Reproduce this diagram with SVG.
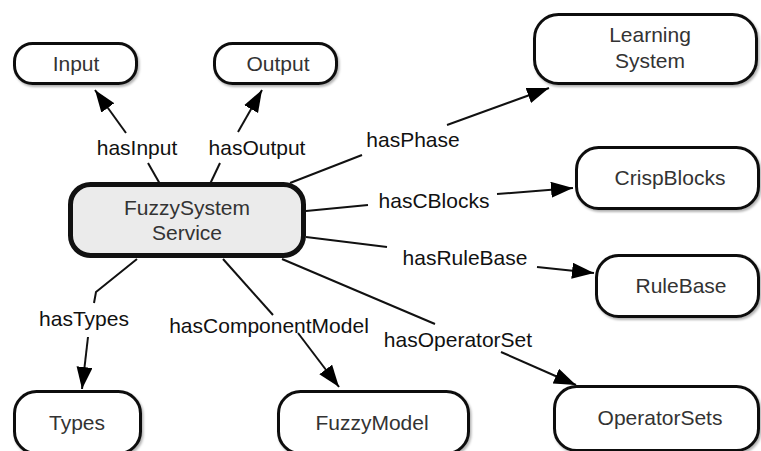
<svg xmlns="http://www.w3.org/2000/svg" width="761" height="451" viewBox="0 0 761 451">
<defs>
<marker id="ah" markerUnits="userSpaceOnUse" markerWidth="24" markerHeight="18" refX="22" refY="8" orient="auto">
<path d="M0,0 L22,8 L0,16 z" fill="#000"/>
</marker>
<filter id="sh" x="-10%" y="-10%" width="130%" height="140%">
<feDropShadow dx="1.5" dy="2" stdDeviation="1" flood-color="#000" flood-opacity="0.3"/>
</filter>
</defs>
<style>
.node rect{fill:#fff;stroke:#111;stroke-width:3;filter:url(#sh)}
.main rect{fill:#ebebeb;stroke:#111;stroke-width:5}
.nt{font-family:"Liberation Sans",Arial,sans-serif;font-size:21px;fill:#333;text-anchor:middle}
.lt{font-family:"Liberation Sans",Arial,sans-serif;font-size:21px;fill:#111;text-anchor:middle}
.c path{fill:none;stroke:#111;stroke-width:2}
.c path.a{marker-end:url(#ah)}
</style>
<rect width="761" height="451" fill="#fff"/>
<g class="c" id="connectors">
<path d="M160,184 L148,163"/><path class="a" d="M126,133 L95,90"/>
<path d="M210,184 L220,163"/><path class="a" d="M238,132 L262,90"/>
<path d="M290,183 L362,155"/><path class="a" d="M447,125 L549,88"/>
<path d="M306,211 L368,205"/><path class="a" d="M497,194 L573,188"/>
<path d="M306,237 L387,247"/><path class="a" d="M537,267 L594,273"/>
<path d="M282,259 L435,324"/><path class="a" d="M501,352 L576,385"/>
<path d="M223,259 L273,315"/><path class="a" d="M298,333 L339,387"/>
<path d="M137,259 L96,292 L94,303"/><path class="a" d="M88,337 L82,389"/>
</g>
<g id="labels">
<text class="lt" x="137" y="155">hasInput</text>
<text class="lt" x="257" y="155">hasOutput</text>
<text class="lt" x="413" y="147">hasPhase</text>
<text class="lt" x="434" y="208">hasCBlocks</text>
<text class="lt" x="465" y="265">hasRuleBase</text>
<text class="lt" x="458" y="347">hasOperatorSet</text>
<text class="lt" x="269" y="333">hasComponentModel</text>
<text class="lt" x="84" y="326">hasTypes</text>
</g>
<g id="n-input" class="node"><rect x="14.5" y="43.5" width="122" height="40" rx="18"/><text class="nt" x="76" y="71">Input</text></g>
<g id="n-output" class="node"><rect x="214.5" y="43.5" width="122" height="40" rx="18"/><text class="nt" x="278" y="71">Output</text></g>
<g id="n-learning" class="node"><rect x="534.5" y="14.5" width="222" height="69" rx="24"/><text class="nt" x="650" y="42">Learning</text><text class="nt" x="650" y="68">System</text></g>
<g id="n-crisp" class="node"><rect x="576.5" y="147.5" width="182" height="61" rx="22"/><text class="nt" x="670" y="185">CrispBlocks</text></g>
<g id="n-rulebase" class="node"><rect x="596.5" y="255.5" width="162" height="61" rx="22"/><text class="nt" x="681" y="293">RuleBase</text></g>
<g id="n-opsets" class="node"><rect x="554.5" y="386.5" width="204" height="64" rx="22"/><text class="nt" x="660" y="425">OperatorSets</text></g>
<g id="n-types" class="node"><rect x="14.5" y="391.5" width="126" height="62" rx="22"/><text class="nt" x="77" y="430">Types</text></g>
<g id="n-fuzzymodel" class="node"><rect x="278.5" y="391.5" width="190" height="62" rx="22"/><text class="nt" x="372" y="430">FuzzyModel</text></g>
<g id="n-fss" class="main"><rect x="70.5" y="184.5" width="233" height="71" rx="20"/><text class="nt" x="187" y="215">FuzzySystem</text><text class="nt" x="187" y="240">Service</text></g>
</svg>
